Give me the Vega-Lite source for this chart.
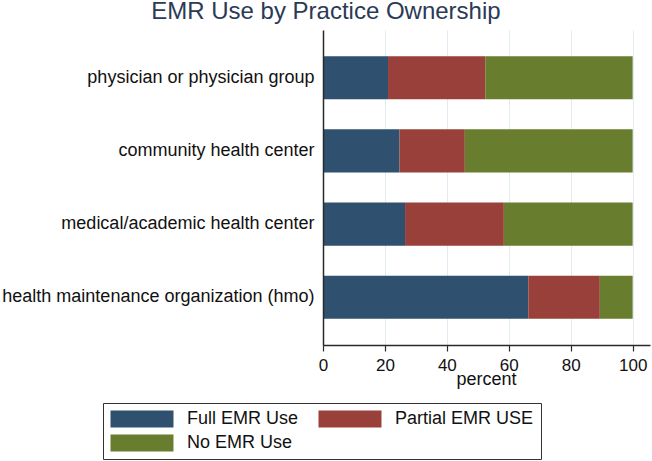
{
  "$schema": "https://vega.github.io/schema/vega-lite/v6.json",
  "autosize": {"type": "none"},
  "padding": {"left": 323, "top": 30, "right": 2, "bottom": 116},
  "width": 327,
  "height": 315,
  "background": "white",
  "title": {
    "text": "EMR Use by Practice Ownership",
    "font": "Liberation Sans",
    "fontSize": 24,
    "fontWeight": "normal",
    "color": "#2b3a55",
    "baseline": "alphabetic",
    "offset": 10,
    "dy": 23,
    "anchor": "middle",
    "frame": "bounds"
  },
  "data": {
    "values": [
      {"ownership": "physician or physician group", "use": "Full EMR Use", "k": 1, "percent": 21.0},
      {"ownership": "physician or physician group", "use": "Partial EMR USE", "k": 2, "percent": 31.4},
      {"ownership": "physician or physician group", "use": "No EMR Use", "k": 3, "percent": 47.6},
      {"ownership": "community health center", "use": "Full EMR Use", "k": 1, "percent": 24.7},
      {"ownership": "community health center", "use": "Partial EMR USE", "k": 2, "percent": 21.1},
      {"ownership": "community health center", "use": "No EMR Use", "k": 3, "percent": 54.2},
      {"ownership": "medical/academic health center", "use": "Full EMR Use", "k": 1, "percent": 26.5},
      {"ownership": "medical/academic health center", "use": "Partial EMR USE", "k": 2, "percent": 31.9},
      {"ownership": "medical/academic health center", "use": "No EMR Use", "k": 3, "percent": 41.6},
      {"ownership": "health maintenance organization (hmo)", "use": "Full EMR Use", "k": 1, "percent": 66.3},
      {"ownership": "health maintenance organization (hmo)", "use": "Partial EMR USE", "k": 2, "percent": 23.1},
      {"ownership": "health maintenance organization (hmo)", "use": "No EMR Use", "k": 3, "percent": 10.6}
    ]
  },
  "mark": {"type": "bar", "strokeWidth": 0},
  "encoding": {
    "y": {
      "field": "ownership",
      "type": "nominal",
      "sort": ["physician or physician group", "community health center", "medical/academic health center", "health maintenance organization (hmo)"],
      "scale": {"paddingInner": 0.41, "paddingOuter": 0.357},
      "axis": {
        "title": null,
        "ticks": false,
        "labelPadding": 9,
        "labelFont": "Liberation Sans",
        "labelFontSize": 18,
        "labelColor": "#111111",
        "labelLimit": 400,
        "domainColor": "#2a2a2a",
        "domainWidth": 1.5,
        "grid": false,
        "zindex": 1
      }
    },
    "x": {
      "field": "percent",
      "type": "quantitative",
      "stack": "zero",
      "scale": {"domain": [0, 105.6], "nice": false},
      "axis": {
        "title": "percent",
        "values": [0, 20, 40, 60, 80, 100],
        "titleFont": "Liberation Sans",
        "titleFontSize": 18,
        "titleFontWeight": "normal",
        "titleColor": "#111111",
        "titlePadding": -3,
        "titleX": 163,
        "labelFont": "Liberation Sans",
        "labelFontSize": 17,
        "labelColor": "#111111",
        "labelPadding": 6,
        "labelFlush": false,
        "tickSize": 6,
        "tickColor": "#2a2a2a",
        "tickWidth": 1.2,
        "domainColor": "#2a2a2a",
        "domainWidth": 1.5,
        "grid": true,
        "gridColor": "#e2ebf1",
        "gridWidth": 1,
        "zindex": 0
      }
    },
    "color": {
      "field": "use",
      "type": "nominal",
      "scale": {
        "domain": ["Full EMR Use", "Partial EMR USE", "No EMR Use"],
        "range": ["#2f506e", "#9a403a", "#697d2e"]
      },
      "legend": {
        "title": null,
        "orient": "none",
        "legendX": -220,
        "legendY": 373,
        "direction": "horizontal",
        "columns": 2,
        "columnPadding": 19,
        "rowPadding": 6,
        "padding": 7,
        "strokeColor": "#333333",
        "fillColor": "white",
        "symbolType": "M-1,-1H6.41V1H-1Z",
        "symbolSize": 289,
        "symbolStrokeWidth": 0,
        "symbolOpacity": 1,
        "labelOffset": 59,
        "labelFont": "Liberation Sans",
        "labelFontSize": 18,
        "labelColor": "#111111",
        "labelLimit": 300
      }
    },
    "order": {"field": "k", "type": "quantitative"}
  },
  "config": {
    "view": {"stroke": null}
  }
}
